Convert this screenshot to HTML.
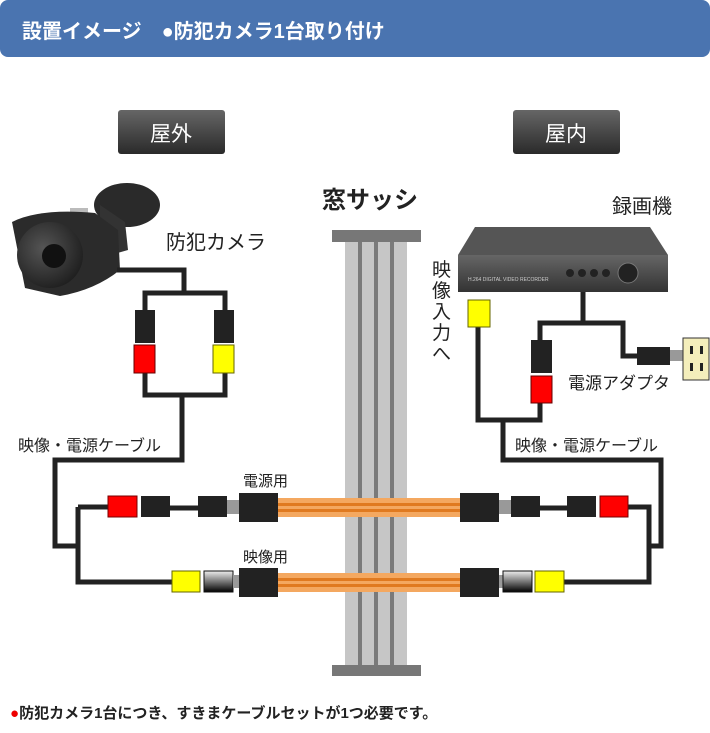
<!DOCTYPE html>
<html><head><meta charset="utf-8"><style>
body{margin:0;width:710px;height:733px;background:#fff;overflow:hidden;font-family:"Liberation Sans","Noto Sans CJK JP",sans-serif}
svg{position:absolute;left:0;top:0}
.t{font-family:"Liberation Sans","Noto Sans CJK JP",sans-serif}
</style></head><body>
<svg width="710" height="733" viewBox="0 0 710 733">
<defs>
<linearGradient id="bx" x1="0" y1="0" x2="0" y2="1"><stop offset="0" stop-color="#666"/><stop offset="1" stop-color="#2a2a2a"/></linearGradient>
<linearGradient id="ch" x1="0" y1="0" x2="0" y2="1"><stop offset="0" stop-color="#eee"/><stop offset="0.5" stop-color="#777"/><stop offset="1" stop-color="#000"/></linearGradient>
<linearGradient id="dvr" x1="0" y1="0" x2="0" y2="1"><stop offset="0" stop-color="#666"/><stop offset="1" stop-color="#333"/></linearGradient>
<radialGradient id="cam" cx="0.4" cy="0.4" r="0.7"><stop offset="0" stop-color="#555"/><stop offset="1" stop-color="#1a1a1a"/></radialGradient>
</defs>
<rect x="0" y="0" width="710" height="57" rx="8" fill="#4a74b0"/>
<text x="22" y="38" class="t" font-size="20" font-weight="bold" fill="#fff">設置イメージ　●防犯カメラ1台取り付け</text>
<rect x="118" y="110" width="107" height="44" rx="3" fill="url(#bx)"/>
<text x="171" y="141" class="t" font-size="21" fill="#fff" text-anchor="middle">屋外</text>
<rect x="513" y="110" width="107" height="44" rx="3" fill="url(#bx)"/>
<text x="566" y="141" class="t" font-size="21" fill="#fff" text-anchor="middle">屋内</text>
<text x="322" y="208" class="t" font-size="24" font-weight="bold" fill="#222">窓サッシ</text>
<text x="166" y="249" class="t" font-size="20" fill="#222">防犯カメラ</text>
<text x="612" y="213" class="t" font-size="20" fill="#222">録画機</text>
<text class="t" font-size="19" fill="#222"><tspan x="432" y="276">映</tspan><tspan x="432" y="297">像</tspan><tspan x="432" y="318">入</tspan><tspan x="432" y="339">力</tspan><tspan x="432" y="360">へ</tspan></text>
<text x="568" y="389" class="t" font-size="17" fill="#222">電源アダプタ</text>
<text x="18" y="451" class="t" font-size="16" fill="#222">映像・電源ケーブル</text>
<text x="515" y="451" class="t" font-size="16" fill="#222">映像・電源ケーブル</text>
<text x="243" y="486" class="t" font-size="15" fill="#222">電源用</text>
<text x="243" y="562" class="t" font-size="15" fill="#222">映像用</text>
<text x="10" y="718" class="t" font-size="15" font-weight="bold" fill="#222"><tspan fill="#e00">●</tspan>防犯カメラ1台につき、すきまケーブルセットが1つ必要です。</text>
<!-- window -->
<rect x="345" y="242" width="62" height="423" fill="#c6c6c6"/>
<rect x="358" y="242" width="4" height="423" fill="#7a7a7a"/>
<rect x="374" y="242" width="4" height="423" fill="#7a7a7a"/>
<rect x="390" y="242" width="4" height="423" fill="#7a7a7a"/>
<rect x="332" y="230" width="89" height="12" fill="#777"/>
<rect x="332" y="665" width="89" height="11" fill="#777"/>
<!-- camera -->
<ellipse cx="127" cy="205" rx="33" ry="22" fill="#2a2a2a"/>
<path d="M100 205 L125 222 L128 250 L100 258 Z" fill="#333"/>
<rect x="70" y="208" width="18" height="7" fill="#bbb"/>
<path d="M12 222 Q40 208 95 213 L118 230 L120 270 Q95 290 60 296 L25 288 Z" fill="#2b2b2b"/>
<circle cx="50" cy="255" r="33" fill="url(#cam)"/>
<circle cx="54" cy="256" r="12" fill="#111"/>
<g stroke="#222" stroke-width="5" fill="none" stroke-linejoin="miter">
<path d="M117 270 H184 V293"/>
<path d="M145 310 V293 H225 V310"/>
<path d="M145 373 V395 H225 V373"/>
<path d="M182 395 V460 H55 V546 H78"/>
<path d="M78 507 V582 H172"/>
<path d="M78 507 H108"/>
<path d="M170 508 H198"/>
<path d="M540 508 H567"/>
<path d="M628 507 H649 V582 H564"/>
<path d="M649 546 H661 V460 H503 V420"/>
<path d="M478 327 V420 H540 V403"/>
<path d="M540 340 V323 H623 V356 H640"/>
<path d="M583 292 V323"/>
</g>
<rect x="135" y="310" width="20" height="33" fill="#222"/>
<rect x="134" y="345" width="21" height="28" fill="#f00" stroke="#600"/>
<rect x="214" y="310" width="20" height="33" fill="#222"/>
<rect x="213" y="345" width="21" height="28" fill="#ff0" stroke="#660"/>
<rect x="531" y="340" width="21" height="33" fill="#222"/>
<rect x="531" y="376" width="21" height="27" fill="#f00" stroke="#600"/>
<rect x="468" y="300" width="22" height="27" fill="#ff0" stroke="#660"/>
<!-- DVR -->
<path d="M475 227 H650 L668 255 H458 Z" fill="#555"/>
<rect x="458" y="255" width="210" height="37" fill="url(#dvr)"/>
<text x="468" y="281" font-size="5" fill="#ccc" font-family="Liberation Sans">H.264 DIGITAL VIDEO RECORDER</text>
<circle cx="570" cy="273" r="4" fill="#222"/><circle cx="582" cy="273" r="4" fill="#222"/><circle cx="594" cy="273" r="4" fill="#222"/><circle cx="606" cy="273" r="4" fill="#222"/>
<circle cx="628" cy="273" r="10" fill="#222" stroke="#777"/>
<rect x="637" y="347" width="33" height="18" fill="#222"/>
<rect x="670" y="350" width="13" height="11" fill="#999"/>
<rect x="683" y="338" width="26" height="42" fill="#f4eebb" stroke="#333"/>
<rect x="690" y="346" width="3" height="8" fill="#222"/><rect x="700" y="346" width="3" height="8" fill="#222"/>
<rect x="690" y="363" width="3" height="8" fill="#222"/><rect x="700" y="363" width="3" height="8" fill="#222"/>
<!-- power row -->
<rect x="278" y="498" width="182" height="19" fill="#f4a860"/>
<rect x="278" y="503" width="182" height="3" fill="#e07a20"/>
<rect x="278" y="509" width="182" height="3" fill="#e07a20"/>
<rect x="108" y="496" width="29" height="21" fill="#f00" stroke="#700"/>
<rect x="141" y="496" width="29" height="21" fill="#222"/>
<rect x="198" y="496" width="29" height="21" fill="#222"/>
<rect x="227" y="500" width="12" height="14" fill="#999"/>
<rect x="239" y="493" width="39" height="29" fill="#222"/>
<rect x="460" y="493" width="39" height="29" fill="#222"/>
<rect x="499" y="500" width="12" height="14" fill="#999"/>
<rect x="511" y="496" width="29" height="21" fill="#222"/>
<rect x="567" y="496" width="29" height="21" fill="#222"/>
<rect x="600" y="496" width="28" height="21" fill="#f00" stroke="#700"/>
<!-- video row -->
<rect x="278" y="573" width="182" height="19" fill="#f4a860"/>
<rect x="278" y="578" width="182" height="3" fill="#e07a20"/>
<rect x="278" y="584" width="182" height="3" fill="#e07a20"/>
<rect x="172" y="571" width="28" height="21" fill="#ff0" stroke="#660"/>
<rect x="204" y="571" width="29" height="21" fill="url(#ch)" stroke="#111"/>
<rect x="233" y="575" width="6" height="13" fill="#999"/>
<rect x="239" y="568" width="39" height="29" fill="#222"/>
<rect x="460" y="568" width="39" height="29" fill="#222"/>
<rect x="499" y="575" width="4" height="13" fill="#999"/>
<rect x="503" y="571" width="29" height="21" fill="url(#ch)" stroke="#111"/>
<rect x="535" y="571" width="29" height="21" fill="#ff0" stroke="#660"/>
</svg>
</body></html>
